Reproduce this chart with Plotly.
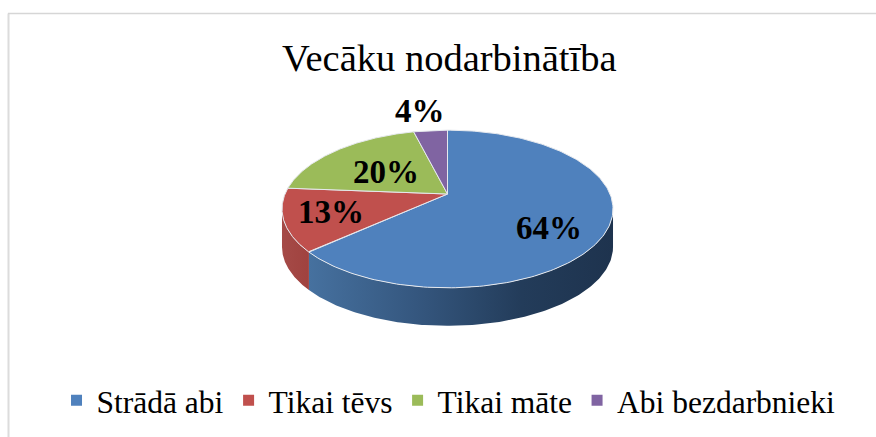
import numpy as np
import plotly.graph_objects as go

# --- data ---
title = "Vecāku nodarbinātība"
categories = ["Strādā abi", "Tikai tēvs", "Tikai māte", "Abi bezdarbnieki"]
values = [64, 13, 20, 4]

# --- styling / projection ---
colors = ["#4f81bd", "#c0504d", "#9bbb59", "#8064a2"]
side_scales = {
    0: [[0, "#46719f"], [0.35, "#35577f"], [0.7, "#233c5a"], [1, "#1e334e"]],
    1: [[0, "#a54a47"], [1, "#a0423f"]],
}
label_pos = [(548.5, 228), (331, 212), (385.5, 172), (419.5, 111)]
CX, CY = 447.5, 194.0
A, B, K = 162.5, 76.0, 0.19
DEPTH = 38.0
FONT = "Liberation Serif"


def project(theta):
    """theta: radians clockwise from the top of the pie."""
    X, Y = np.sin(theta), np.cos(theta)
    w = 1 + K * Y
    return CX + A * X / w, CY - B * Y / w


fracs = np.array(values, dtype=float) / sum(values)
edges = np.concatenate([[0], np.cumsum(fracs)]) * 2 * np.pi

# tangent angles bounding the visible wall
dense = np.linspace(0, 2 * np.pi, 3601)
dx, _ = project(dense)
th_right, th_left = dense[np.argmax(dx)], dense[np.argmin(dx)]

fig = go.Figure()

# walls
for i in side_scales:
    a0 = max(edges[i], th_right)
    a1 = min(edges[i + 1], th_left)
    t = np.linspace(a0, a1, 160)
    x, y = project(t)
    px = np.concatenate([x, x[::-1], x[:1]])
    py = np.concatenate([y, (y + DEPTH)[::-1], y[:1]])
    fig.add_trace(go.Scatter(
        x=px, y=py, mode="lines", line=dict(width=0), showlegend=False, hoverinfo="skip",
        fill="toself",
        fillgradient=dict(type="horizontal", colorscale=side_scales[i],
                          start=float(x.min()), stop=float(x.max())),
    ))

# top face
for i, c in enumerate(colors):
    t = np.linspace(edges[i], edges[i + 1], 200)
    x, y = project(t)
    fig.add_trace(go.Scatter(
        x=np.concatenate([[CX], x, [CX]]), y=np.concatenate([[CY], y, [CY]]),
        mode="lines", line=dict(color="#e6e9ee", width=1), fill="toself", fillcolor=c,
        showlegend=False, hoverinfo="skip",
    ))

# legend entries
for name, c in zip(categories, colors):
    fig.add_trace(go.Scatter(x=[None], y=[None], mode="markers", name=name,
                             marker=dict(symbol="square", size=11, color=c)))

annotations = [
    dict(x=lx, y=ly, text=f"<b>{v}%</b>", showarrow=False, xref="x", yref="y",
         font=dict(family=FONT, size=33, color="black"))
    for v, (lx, ly) in zip(values, label_pos)
]
annotations.append(dict(x=449, y=58, text=title, showarrow=False, xref="x", yref="y",
                        font=dict(family=FONT, size=38.5, color="black")))

fig.update_layout(
    width=876, height=437, autosize=False,
    margin=dict(l=0, r=0, t=0, b=0),
    paper_bgcolor="white", plot_bgcolor="white",
    xaxis=dict(range=[0, 876], visible=False, fixedrange=True),
    yaxis=dict(range=[437, 0], visible=False, fixedrange=True),
    annotations=annotations,
    legend=dict(orientation="h", x=0.512, xanchor="center", y=0.022, yanchor="bottom",
                font=dict(family=FONT, size=31.5, color="black"),
                bgcolor="rgba(0,0,0,0)", itemclick=False, itemdoubleclick=False),
    shapes=[
        dict(type="line", xref="x", yref="y", x0=8.5, x1=8.5, y0=13.5, y1=437,
             line=dict(color="#dcdcdc", width=2)),
        dict(type="line", xref="x", yref="y", x0=8, x1=876, y0=13.5, y1=13.5,
             line=dict(color="#d6d6d6", width=1.5)),
    ],
)
fig.write_html("out.html", config={"displayModeBar": False},
               post_script="document.body.style.margin='0';document.documentElement.style.overflow='hidden';")
